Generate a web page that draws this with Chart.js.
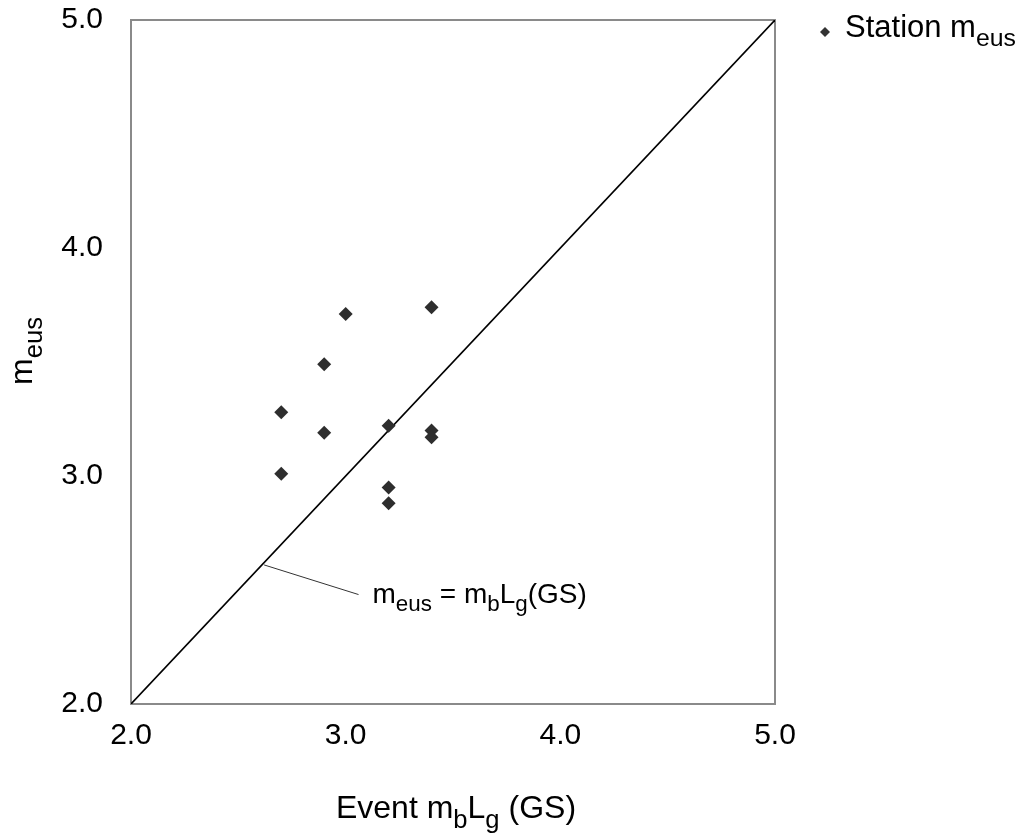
<!DOCTYPE html>
<html>
<head>
<meta charset="utf-8">
<script src="https://cdn.jsdelivr.net/npm/chart.js@4/dist/chart.umd.min.js"></script>
<style>
  html, body { margin: 0; background: #fff; }
  #wrap { width: 1035px; height: 833px; }
</style>
</head>
<body>
<div id="wrap"><canvas id="chart"></canvas></div>
<script>
// values
const stationX = [2.7, 2.7, 2.9, 2.9, 3.0, 3.2, 3.2, 3.2, 3.4, 3.4, 3.4];
const stationY = [3.28, 3.01, 3.49, 3.19, 3.71, 3.22, 2.95, 2.88, 3.74, 3.20, 3.17];
const equalX = [2.0, 5.0];
const equalY = [2.0, 5.0];
const leaderX = [2.62, 3.06];
const leaderY = [2.61, 2.48];
const tickValues = [2.0, 3.0, 4.0, 5.0];

const FONT = '"Liberation Sans", Arial, Helvetica, sans-serif';

function toPoints(xs, ys) {
  return xs.map((x, i) => ({ x: x, y: ys[i] }));
}

// draws text pieces, some of them as subscripts
function drawRich(ctx, parts, x, y, size, align) {
  const subSize = size * 0.8;
  let total = 0;
  parts.forEach(p => {
    ctx.font = (p.sub ? subSize : size) + 'px ' + FONT;
    p.w = ctx.measureText(p.t).width;
    total += p.w;
  });
  let cx = align === 'center' ? x - total / 2 : x;
  ctx.textBaseline = 'alphabetic';
  ctx.textAlign = 'left';
  parts.forEach(p => {
    ctx.font = (p.sub ? subSize : size) + 'px ' + FONT;
    ctx.fillText(p.t, cx, p.sub ? y + size * 0.3 : y);
    cx += p.w;
  });
}

const labels = {
  id: 'labels',
  beforeDatasetsDraw(chart) {
    const { ctx, chartArea: a } = chart;
    ctx.save();
    ctx.strokeStyle = '#8a8a8a';
    ctx.lineWidth = 2;
    ctx.strokeRect(a.left, a.top, a.right - a.left, a.bottom - a.top);
    ctx.restore();
  },
  afterDraw(chart) {
    const { ctx, chartArea: a, scales } = chart;
    ctx.save();
    ctx.fillStyle = '#000';

    // x title
    drawRich(ctx, [
      { t: 'Event m' }, { t: 'b', sub: true }, { t: 'L' }, { t: 'g', sub: true }, { t: ' (GS)' }
    ], (a.left + a.right) / 2 + 3, 818, 32, 'center');

    // y title
    ctx.save();
    ctx.translate(32, 351);
    ctx.rotate(-Math.PI / 2);
    drawRich(ctx, [{ t: 'm' }, { t: 'eus', sub: true }], 0, 0, 32, 'center');
    ctx.restore();

    // annotation
    const lx = scales.x.getPixelForValue(leaderX[1]) + 14;
    const ly = scales.y.getPixelForValue(leaderY[1]) + 8;
    drawRich(ctx, [
      { t: 'm' }, { t: 'eus', sub: true }, { t: ' = m' }, { t: 'b', sub: true },
      { t: 'L' }, { t: 'g', sub: true }, { t: '(GS)' }
    ], lx, ly, 28, 'left');

    // legend
    ctx.fillStyle = '#333';
    ctx.beginPath();
    ctx.moveTo(825, 27); ctx.lineTo(830, 32); ctx.lineTo(825, 37); ctx.lineTo(820, 32);
    ctx.closePath();
    ctx.fill();
    ctx.fillStyle = '#000';
    drawRich(ctx, [{ t: 'Station m' }, { t: 'eus', sub: true }], 845, 37, 31, 'left');
    ctx.restore();
  }
};

new Chart(document.getElementById('chart'), {
  type: 'scatter',
  data: {
    datasets: [
      {
        label: 'Station meus',
        data: toPoints(stationX, stationY),
        pointStyle: 'rectRot',
        pointRadius: 7,
        backgroundColor: '#2e2e2e',
        borderColor: '#2e2e2e',
        borderWidth: 0
      },
      {
        label: 'meus = mbLg(GS)',
        data: toPoints(equalX, equalY),
        showLine: true,
        pointRadius: 0,
        borderColor: '#000',
        borderWidth: 1.6
      },
      {
        label: 'leader',
        data: toPoints(leaderX, leaderY),
        showLine: true,
        pointRadius: 0,
        borderColor: '#333',
        borderWidth: 1
      }
    ]
  },
  options: {
    responsive: true,
    maintainAspectRatio: false,
    animation: false,
    layout: { padding: { top: 20, right: 260, left: 0, bottom: 0 } },
    plugins: { legend: { display: false }, tooltip: { enabled: false } },
    scales: {
      x: {
        min: 2, max: 5,
        afterFit: s => { s.height = 129; s.paddingLeft = 0; s.paddingRight = 0; },
        afterBuildTicks: s => { s.ticks = tickValues.map(v => ({ value: v })); },
        grid: { display: false },
        border: { display: false },
        ticks: {
          padding: 6,
          color: '#000',
          font: { family: FONT, size: 30 },
          maxRotation: 0,
          callback: v => v.toFixed(1)
        }
      },
      y: {
        min: 2, max: 5,
        afterFit: s => { s.width = 131; s.paddingTop = 0; s.paddingBottom = 0; },
        afterBuildTicks: s => { s.ticks = tickValues.map(v => ({ value: v })); },
        grid: { display: false },
        border: { display: false },
        ticks: {
          padding: 20,
          color: '#000',
          font: { family: FONT, size: 30 },
          callback: v => v.toFixed(1)
        }
      }
    }
  },
  plugins: [labels]
});
</script>
</body>
</html>
